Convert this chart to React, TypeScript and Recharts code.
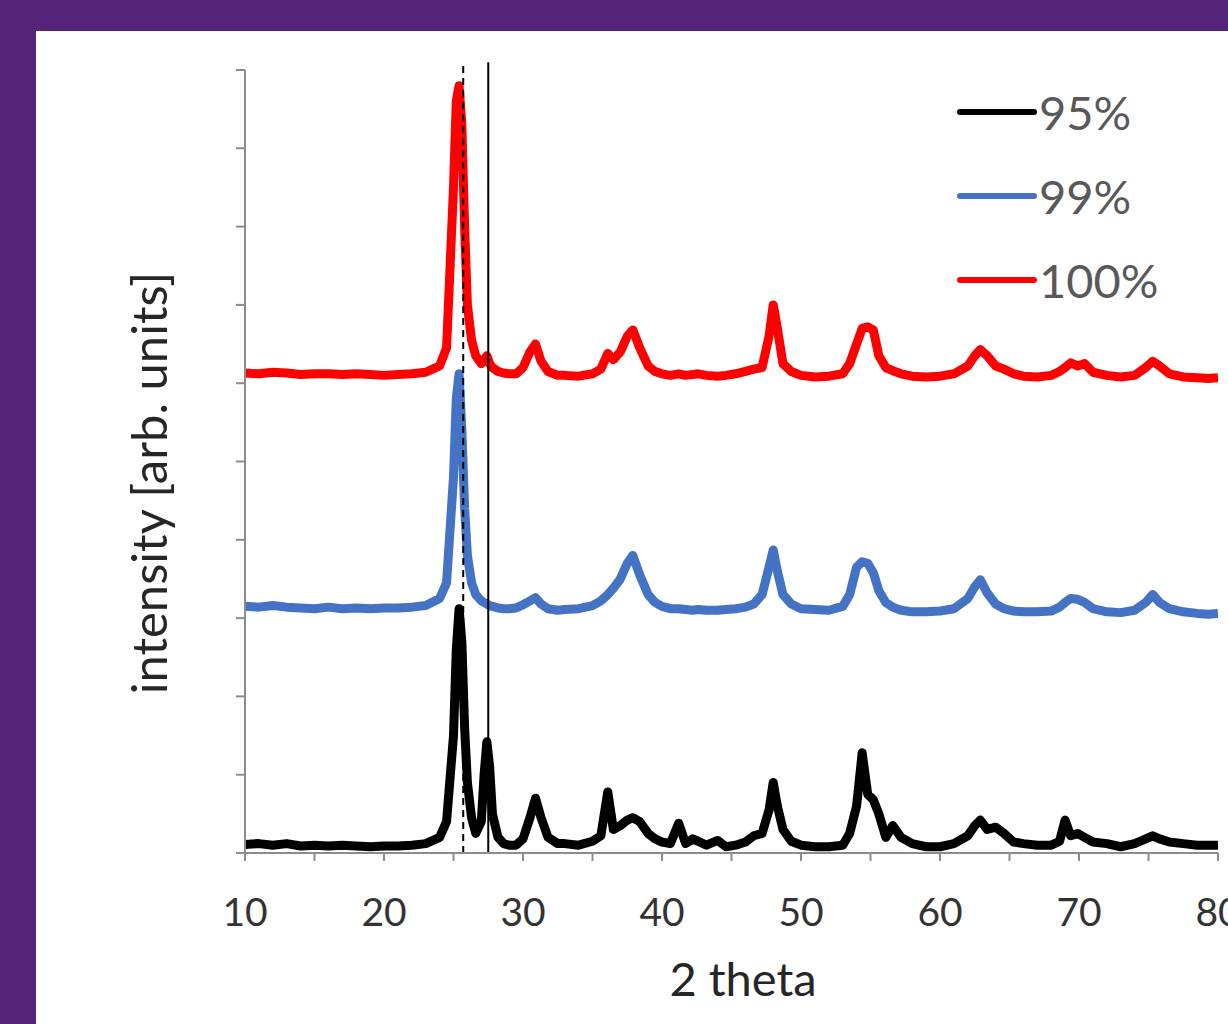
import React from "react";
import { LineChart, Line, XAxis, YAxis, ReferenceLine, Label } from "recharts";

// 2 theta positions (deg), shared by all three patterns
const twoTheta = [
  10, 11, 12, 13, 14, 15, 16, 17, 18, 19, 20, 21, 22, 23, 24, 24.5, 25, 25.2,
  25.4, 25.6, 25.8, 26, 26.3, 26.6, 27, 27.2, 27.4, 27.6, 27.8, 28.2, 28.6, 29,
  29.5, 30, 30.5, 30.9, 31.3, 31.8, 32.5, 33, 34, 35, 35.6, 36.1, 36.5, 37, 37.5,
  37.9, 38.4, 39, 39.5, 40, 40.6, 41.2, 41.7, 42.2, 42.6, 43.2, 44, 44.6, 45.3,
  46, 46.6, 47.2, 47.7, 48, 48.3, 48.7, 49.3, 50, 51, 52, 53, 53.5, 54, 54.4,
  54.8, 55.2, 55.6, 56.1, 56.6, 57.2, 58, 59, 60, 61, 62, 62.5, 62.9, 63.4, 64,
  64.6, 65.3, 66, 67, 68, 68.6, 69, 69.4, 69.9, 70.4, 71, 72, 73, 74, 74.8, 75.3,
  75.8, 76.5, 77.5, 78.5, 79.3, 80,
];

const int95 = [
  0.11, 0.12, 0.1, 0.12, 0.09, 0.1, 0.09, 0.1, 0.09, 0.08, 0.09, 0.09, 0.1, 0.12,
  0.2, 0.4, 1.5, 2.6, 3.12, 2.7, 1.6, 0.9, 0.45, 0.25, 0.4, 1.0, 1.42, 1.1, 0.5,
  0.2, 0.12, 0.1, 0.1, 0.18, 0.45, 0.7, 0.45, 0.2, 0.12, 0.12, 0.1, 0.15, 0.22,
  0.78, 0.3, 0.35, 0.42, 0.45, 0.4, 0.25, 0.18, 0.14, 0.12, 0.38, 0.12, 0.18,
  0.15, 0.1, 0.16, 0.08, 0.1, 0.14, 0.22, 0.25, 0.55, 0.9, 0.6, 0.3, 0.15, 0.1,
  0.08, 0.08, 0.1, 0.25, 0.6, 1.28, 0.75, 0.68, 0.5, 0.2, 0.35, 0.2, 0.12, 0.08,
  0.08, 0.12, 0.22, 0.35, 0.42, 0.3, 0.33, 0.25, 0.14, 0.12, 0.1, 0.1, 0.15,
  0.42, 0.22, 0.25, 0.2, 0.14, 0.12, 0.08, 0.12, 0.18, 0.22, 0.18, 0.14, 0.12,
  0.1, 0.1, 0.1,
];

const int99 = [
  3.15, 3.14, 3.16, 3.14, 3.13, 3.12, 3.14, 3.12, 3.13, 3.12, 3.13, 3.13, 3.14,
  3.16, 3.25, 3.45, 4.8, 5.8, 6.12, 5.4, 4.4, 3.8, 3.45, 3.3, 3.22, 3.2, 3.18,
  3.16, 3.15, 3.13, 3.12, 3.12, 3.13, 3.17, 3.22, 3.26, 3.18, 3.12, 3.1, 3.11,
  3.12, 3.16, 3.22, 3.3, 3.38, 3.5, 3.7, 3.8, 3.55, 3.3, 3.2, 3.15, 3.12, 3.12,
  3.11, 3.1, 3.11, 3.1, 3.1, 3.11, 3.12, 3.14, 3.18, 3.3, 3.65, 3.87, 3.6, 3.3,
  3.18, 3.12, 3.11, 3.1, 3.15, 3.3, 3.65, 3.72, 3.7, 3.58, 3.35, 3.2, 3.14, 3.1,
  3.08, 3.08, 3.09, 3.12, 3.25, 3.4, 3.49, 3.32, 3.18, 3.12, 3.09, 3.08, 3.08,
  3.09, 3.14, 3.2, 3.25, 3.24, 3.2, 3.12, 3.08, 3.07, 3.1, 3.2, 3.3, 3.2, 3.12,
  3.08, 3.06, 3.05, 3.06,
];

const int100 = [
  6.13, 6.12, 6.14, 6.13, 6.11, 6.12, 6.12, 6.11, 6.12, 6.11, 6.1, 6.11, 6.12,
  6.14, 6.22, 6.45, 8.5, 9.6, 9.8, 9.3, 8.0, 7.0, 6.55, 6.35, 6.25, 6.3, 6.35,
  6.25, 6.2, 6.15, 6.13, 6.12, 6.12, 6.2, 6.4, 6.5, 6.28, 6.15, 6.1, 6.1, 6.09,
  6.12, 6.18, 6.38, 6.3, 6.4, 6.6, 6.68, 6.45, 6.22, 6.15, 6.12, 6.1, 6.12, 6.1,
  6.11, 6.12, 6.1, 6.09, 6.1, 6.12, 6.15, 6.18, 6.2, 6.6, 7.0, 6.7, 6.25, 6.15,
  6.1, 6.08, 6.09, 6.12, 6.25, 6.5, 6.7, 6.72, 6.68, 6.35, 6.2, 6.16, 6.12, 6.09,
  6.08, 6.09, 6.12, 6.22, 6.35, 6.43, 6.35, 6.22, 6.18, 6.12, 6.09, 6.08, 6.1,
  6.15, 6.2, 6.26, 6.22, 6.25, 6.14, 6.1, 6.08, 6.1, 6.2, 6.28, 6.22, 6.12, 6.08,
  6.07, 6.06, 6.07,
];

const xTicks = [10, 15, 20, 25, 30, 35, 40, 45, 50, 55, 60, 65, 70, 75, 80];
const yTicks = [0, 1, 2, 3, 4, 5, 6, 7, 8, 9, 10];
const anataseLine = 25.7;
const rutileLine = 27.5;

const series = [
  { key: "s95", name: "95%", color: "#000000" },
  { key: "s99", name: "99%", color: "#4472c4" },
  { key: "s100", name: "100%", color: "#ff0000" },
];

const data = twoTheta.map((t, i) => ({
  t,
  s95: int95[i],
  s99: int99[i],
  s100: int100[i],
}));

const font = "Lato, 'Open Sans', sans-serif";
const axisColor = "#8c8c8c";

const XTick = (props: any) => {
  const { x, y, payload } = props;
  if (payload.value % 10 !== 0) return <g />;
  return (
    <text x={x} y={y + 63} textAnchor="middle" fontSize={39} fill="#333" fontFamily={font}>
      {payload.value}
    </text>
  );
};

const LegendBox = () => (
  <div style={{ position: "absolute", left: 957, top: 70, fontFamily: font }}>
    {series.map((s) => (
      <div key={s.key} style={{ display: "flex", alignItems: "center", height: 84 }}>
        <div style={{ width: 80, height: 6, borderRadius: 3, background: s.color }} />
        <span style={{ fontSize: 47, color: "#595959", marginLeft: 2 }}>{s.name}</span>
      </div>
    ))}
  </div>
);

export default function App() {
  return (
    <div
      style={{
        position: "absolute",
        left: 0,
        top: 0,
        width: 1228,
        height: 1024,
        background: "#55247a",
        overflow: "hidden",
      }}
    >
      <div
        style={{
          position: "absolute",
          left: 36,
          top: 31,
          width: 1192,
          height: 993,
          background: "#ffffff",
        }}
      />
      <div style={{ position: "absolute", left: 0, top: 0 }}>
        <LineChart
          width={1228}
          height={1024}
          data={data}
          margin={{ top: 70, right: 10, bottom: 0, left: 0 }}
        >
          <XAxis
            dataKey="t"
            type="number"
            domain={[10, 80]}
            ticks={xTicks}
            tick={<XTick />}
            tickLine={{ stroke: axisColor, strokeWidth: 2 }}
            tickSize={8}
            axisLine={{ stroke: axisColor, strokeWidth: 2 }}
            height={171}
            allowDataOverflow
          >
            <Label
              content={() => (
                <text x={743} y={996} textAnchor="middle" fontSize={47} fill="#262626" fontFamily={font}>
                  2 theta
                </text>
              )}
            />
          </XAxis>
          <YAxis
            type="number"
            domain={[0, 10]}
            ticks={yTicks}
            tick={() => <g />}
            tickLine={{ stroke: axisColor, strokeWidth: 2 }}
            tickSize={9}
            axisLine={{ stroke: axisColor, strokeWidth: 2 }}
            width={245}
          >
            <Label
              content={() => (
                <text
                  x={167}
                  y={483}
                  textAnchor="middle"
                  fontSize={49}
                  fill="#262626"
                  fontFamily={font}
                  transform="rotate(-90 167 483)"
                >
                  intensity [arb. units]
                </text>
              )}
            />
          </YAxis>
          {series.map((s) => (
            <Line
              key={s.key}
              dataKey={s.key}
              name={s.name}
              stroke={s.color}
              strokeWidth={9}
              strokeLinejoin="round"
              type="linear"
              dot={false}
              isAnimationActive={false}
            />
          ))}
          <ReferenceLine
            segment={[
              { x: anataseLine, y: 0 },
              { x: anataseLine, y: 10.1 },
            ]}
            ifOverflow="visible"
            stroke="#000"
            strokeWidth={2}
            strokeDasharray="7 5"
          />
          <ReferenceLine
            segment={[
              { x: rutileLine, y: 0 },
              { x: rutileLine, y: 10.1 },
            ]}
            ifOverflow="visible"
            stroke="#000"
            strokeWidth={2}
          />
        </LineChart>
      </div>
      <LegendBox />
    </div>
  );
}
